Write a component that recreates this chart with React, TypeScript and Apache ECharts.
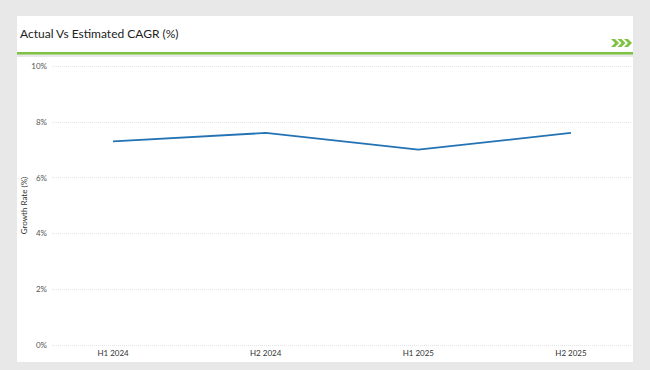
import React, { useEffect, useRef } from "react";
import * as echarts from "echarts";

const categories = ["H1 2024", "H2 2024", "H1 2025", "H2 2025"];
const growthRate = [7.3, 7.6, 7.0, 7.6];
const yTicks = [0, 2, 4, 6, 8, 10];

const FONT = "Lato, 'Open Sans', sans-serif";
const GREEN = "#7dc242";

function chevron(x0: number) {
  return {
    type: "polygon",
    z: -5,
    shape: {
      points: [
        [x0, 39],
        [x0 + 4, 39],
        [x0 + 8, 43],
        [x0 + 4, 47],
        [x0, 47],
        [x0 + 4, 43],
      ],
    },
    style: { fill: GREEN },
  };
}

export default function App() {
  const ref = useRef<HTMLDivElement>(null);
  useEffect(() => {
    if (!ref.current) return;
    const chart = echarts.init(ref.current, null, { renderer: "svg" });
    chart.setOption({
      animation: false,
      backgroundColor: "#e8e8e8",
      textStyle: { fontFamily: FONT },
      graphic: [
        { type: "rect", z: -10, shape: { x: 17, y: 16, width: 616, height: 36 }, style: { fill: "#ffffff" } },
        { type: "rect", z: -10, shape: { x: 17, y: 52, width: 616, height: 2.5 }, style: { fill: GREEN } },
        { type: "rect", z: -10, shape: { x: 17, y: 57, width: 616, height: 305 }, style: { fill: "#ffffff" } },
        {
          type: "text",
          z: -5,
          x: 20,
          y: 33,
          style: {
            text: "Actual Vs Estimated CAGR (%)",
            fontFamily: FONT,
            fontSize: 12,
            fill: "#222222",
            verticalAlign: "middle",
          },
        },
        chevron(611),
        chevron(617.5),
        chevron(624),
      ],
      grid: { left: 52, right: 18, top: 66, bottom: 25, containLabel: false },
      xAxis: {
        type: "value",
        min: -0.4,
        max: 3.4,
        axisLine: { show: false },
        axisTick: { show: false },
        splitLine: { show: false },
        axisLabel: {
          customValues: [0, 1, 2, 3],
          formatter: (v: number) => categories[Math.round(v)] ?? "",
          fontSize: 8,
          color: "#333333",
          margin: 4,
          fontFamily: FONT,
        },
      },
      yAxis: {
        type: "value",
        min: yTicks[0],
        max: yTicks[yTicks.length - 1],
        interval: 2,
        name: "Growth Rate (%)",
        nameLocation: "middle",
        nameGap: 24,
        nameMoveOverlap: false,
        nameTextStyle: { fontSize: 8, color: "#333333", fontFamily: FONT },
        axisLine: { show: false },
        axisTick: { show: false },
        axisLabel: {
          formatter: "{value}%",
          fontSize: 8,
          color: "#555555",
          margin: 5,
          fontFamily: FONT,
        },
        splitLine: { show: true, lineStyle: { type: "dotted", color: "#e4e4e4", width: 1 } },
      },
      series: [
        {
          type: "line",
          data: growthRate.map((v, i) => [i, v]),
          showSymbol: false,
          symbol: "none",
          lineStyle: { color: "#2372b4", width: 1.8 },
          itemStyle: { color: "#2372b4" },
        },
      ],
    });
    return () => chart.dispose();
  }, []);
  return (
    <div
      ref={ref}
      style={{ position: "fixed", left: 0, top: 0, width: 650, height: 370 }}
    />
  );
}
